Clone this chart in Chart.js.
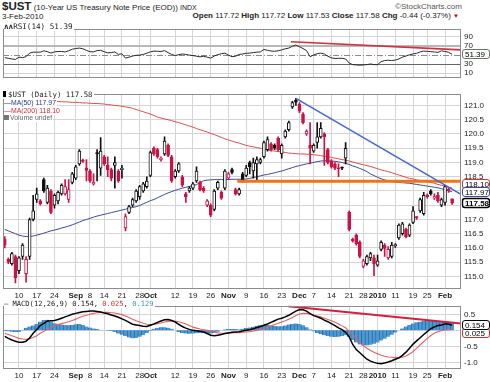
<!DOCTYPE html>
<html><head><meta charset="utf-8">
<script src="https://cdn.jsdelivr.net/npm/chart.js@4/dist/chart.umd.min.js"></script>
<style>
body{margin:0;background:#fff;}
#wrap{position:relative;width:490px;height:382px;overflow:hidden;font-family:'Liberation Sans',Arial,sans-serif;color:#222;background:#fff;}
canvas{position:absolute;left:0;}
.t{position:absolute;white-space:nowrap;line-height:1;}
.lg{position:absolute;white-space:nowrap;line-height:8px;background:#fff;z-index:5;padding-right:1px;}
</style></head><body><div id="wrap">
<div class="t" style="left:2px;top:1px;font-size:8px"><b style="font-size:11.5px">$UST</b> (10-Year US Treasury Note Price (EOD)) <span style="font-size:7px">INDX</span></div>
<div class="t" style="left:395px;top:3px;font-size:8px;color:#555">©StockCharts.com</div>
<div class="t" style="left:2px;top:13px;font-size:8px">3-Feb-2010</div>
<div class="t" style="right:31px;top:12px;font-size:8px"><b>Open</b> 117.72 <b>High</b> 117.72 <b>Low</b> 117.53 <b>Close</b> 117.58 <b>Chg</b> -0.44 (-0.37%) <span style="color:#c00;font-size:6px">▼</span></div>

<canvas id="cRsi" width="490" height="65" style="top:21px"></canvas>
<canvas id="cMain" width="490" height="214" style="top:86px"></canvas>
<canvas id="cMacd" width="490" height="84" style="top:298px"></canvas>

<div class="lg" style="left:4px;top:23px;font-family:'DejaVu Sans Mono';font-size:7.6px"><b>ʌʌ</b>RSI(14) 51.39</div>
<div class="lg" style="left:3px;top:91px;font-family:'DejaVu Sans Mono';font-size:7.4px"><span style="display:inline-block;width:3px;height:6px;background:#000;margin-right:2px"></span>$UST (Daily) 117.58</div>
<div class="lg" style="left:4px;top:99px;font-size:6.9px;color:#2b3a80">—MA(50) 117.97</div>
<div class="lg" style="left:4px;top:107px;font-size:6.9px;color:#cc3333">—MA(200) 118.10</div>
<div class="lg" style="left:4px;top:114px;font-size:6.9px;color:#666"><span style="display:inline-block;width:5px;height:5px;background:#777;margin-right:1px"></span>Volume undef</div>
<div class="lg" style="left:4px;top:300px;font-family:'DejaVu Sans Mono';font-size:7.1px">— MACD(12,26,9) 0.154, <span style="color:#cc3333">0.025</span>, <span style="color:#3399bb">0.129</span></div>
</div>
<script>
const dates = [
'2009-08-04','2009-08-05','2009-08-06','2009-08-07',
'2009-08-10','2009-08-11','2009-08-12','2009-08-13','2009-08-14',
'2009-08-17','2009-08-18','2009-08-19','2009-08-20','2009-08-21',
'2009-08-24','2009-08-25','2009-08-26','2009-08-27','2009-08-28',
'2009-08-31','2009-09-01','2009-09-02','2009-09-03','2009-09-04',
'2009-09-08','2009-09-09','2009-09-10','2009-09-11',
'2009-09-14','2009-09-15','2009-09-16','2009-09-17','2009-09-18',
'2009-09-21','2009-09-22','2009-09-23','2009-09-24','2009-09-25',
'2009-09-28','2009-09-29','2009-09-30','2009-10-01','2009-10-02',
'2009-10-05','2009-10-06','2009-10-07','2009-10-08','2009-10-09',
'2009-10-12','2009-10-13','2009-10-14','2009-10-15','2009-10-16',
'2009-10-19','2009-10-20','2009-10-21','2009-10-22','2009-10-23',
'2009-10-26','2009-10-27','2009-10-28','2009-10-29','2009-10-30',
'2009-11-02','2009-11-03','2009-11-04','2009-11-05','2009-11-06',
'2009-11-09','2009-11-10','2009-11-11','2009-11-12','2009-11-13',
'2009-11-16','2009-11-17','2009-11-18','2009-11-19','2009-11-20',
'2009-11-23','2009-11-24','2009-11-25','2009-11-27',
'2009-11-30','2009-12-01','2009-12-02','2009-12-03','2009-12-04',
'2009-12-07','2009-12-08','2009-12-09','2009-12-10','2009-12-11',
'2009-12-14','2009-12-15','2009-12-16','2009-12-17','2009-12-18',
'2009-12-21','2009-12-22','2009-12-23','2009-12-24',
'2009-12-28','2009-12-29','2009-12-30','2009-12-31',
'2010-01-04','2010-01-05','2010-01-06','2010-01-07','2010-01-08',
'2010-01-11','2010-01-12','2010-01-13','2010-01-14','2010-01-15',
'2010-01-19','2010-01-20','2010-01-21','2010-01-22',
'2010-01-25','2010-01-26','2010-01-27','2010-01-28','2010-01-29',
'2010-02-01','2010-02-02','2010-02-03'];

const tickDates = ['2009-08-10','2009-08-17','2009-08-24','2009-09-01','2009-09-08','2009-09-14','2009-09-21','2009-09-28','2009-10-01','2009-10-12','2009-10-19','2009-10-26','2009-11-02','2009-11-09','2009-11-16','2009-11-23','2009-12-01','2009-12-07','2009-12-14','2009-12-21','2009-12-28','2010-01-04','2010-01-11','2010-01-19','2010-01-25','2010-02-01'];
const tickText = ['10','17','24','Sep','8','14','21','28','Oct','12','19','26','Nov','9','16','23','Dec','7','14','21','28','2010','11','19','25','Feb'];
const boldTicks = ['Sep','Oct','Nov','Dec','2010','Feb'];

const open = [
116.3,115.6,115.45,115.7,115.2,115.7,115.1,115.7,117.0,117.7,
117.65,118.4,117.6,118.0,117.5,117.65,117.9,117.9,117.7,118.3,
118.45,118.95,119.08,118.8,118.7,118.25,119.35,118.8,119.2,118.9,
118.75,118.9,118.7,118.75,116.7,117.25,117.5,117.65,117.8,118.0,
118.15,118.55,119.5,119.45,119.1,119.3,119.6,119.2,118.5,118.7,
118.5,117.9,118.0,118.1,118.35,118.3,118.1,117.5,117.5,117.35,
118.1,117.95,118.1,118.45,118.75,118.05,117.9,118.6,118.55,119.0,
118.7,118.95,119.0,119.2,119.45,119.65,119.6,119.85,119.3,119.9,
120.15,120.95,121.18,121.05,120.7,120.0,119.6,119.4,119.7,119.9,
120.0,119.45,119.05,118.95,118.8,118.82,119.15,117.25,116.3,116.45,
116.2,115.35,115.45,115.65,115.65,115.4,115.95,116.1,115.65,115.7,
116.08,116.35,116.5,116.65,116.45,116.9,117.1,117.3,117.2,117.85,
118.0,117.75,117.85,117.5,117.6,118.05,117.72];
const high = [
116.4,115.65,115.85,115.75,115.7,116.15,115.7,117.05,117.85,118.1,
117.7,118.45,118.2,118.05,117.9,118.0,118.25,118.4,118.4,118.65,
118.9,119.45,119.12,119.1,118.75,118.6,119.45,119.87,119.25,119.2,
118.8,119.2,118.75,118.9,117.2,117.5,117.75,118.05,118.2,118.3,
118.5,119.4,119.55,119.5,119.2,119.9,119.65,119.25,118.75,119.0,
118.55,117.95,118.15,118.3,118.85,118.35,118.15,117.7,117.55,118.05,
118.35,118.0,118.75,118.65,118.8,118.1,118.1,118.65,118.9,119.05,
119.15,119.2,119.15,119.75,119.9,119.7,119.65,119.9,119.65,120.15,
120.45,121.15,121.25,121.1,120.75,120.15,120.4,119.65,120.4,120.4,
120.05,119.5,119.1,119.0,118.95,118.85,119.7,117.3,116.35,116.5,
116.25,115.6,115.75,115.85,115.75,115.75,116.25,116.15,116.05,116.2,
116.15,116.85,116.9,116.7,116.85,117.45,117.1,117.75,117.95,117.9,
118.05,117.9,117.95,117.75,118.2,118.1,117.72];
const low = [
116.0,115.45,115.4,114.77,115.1,115.6,114.8,115.6,116.95,117.6,
117.5,117.95,117.55,117.2,117.4,117.55,117.85,117.85,117.6,118.25,
118.4,118.9,119.0,118.35,118.3,118.2,118.35,118.55,118.9,118.5,
118.35,118.1,118.3,118.45,116.6,117.2,117.45,117.6,117.7,117.95,
118.1,118.5,119.25,119.15,119.05,119.25,119.2,118.3,118.45,118.65,
118.15,117.6,117.95,118.05,118.3,118.0,117.95,117.45,117.1,117.3,
118.05,117.7,118.05,118.4,118.6,117.85,117.85,118.3,118.5,118.6,
118.45,118.4,118.95,119.15,119.4,119.4,119.45,119.4,119.15,119.85,
120.1,120.9,121.0,120.75,120.35,119.95,118.95,119.35,119.5,119.85,
118.9,118.95,118.8,118.75,118.5,118.75,118.95,116.6,116.2,116.1,
115.65,115.3,115.4,115.55,115.03,115.35,115.9,115.7,115.6,115.65,
116.02,116.3,116.45,116.35,116.4,116.85,117.0,117.25,117.15,117.75,
117.85,117.7,117.6,117.45,117.5,117.95,117.53];
const close = [
116.1,115.5,115.8,114.95,115.65,116.1,115.6,117.0,117.3,117.9,
117.55,118.0,118.1,117.25,117.85,117.95,118.2,118.15,118.05,118.6,
118.85,119.4,119.04,118.72,118.35,118.3,119.3,119.4,118.95,118.75,
118.45,119.0,118.35,118.8,117.1,117.45,117.7,118.0,118.15,118.25,
118.35,119.35,119.3,119.2,119.15,119.75,119.25,118.35,118.7,118.95,
118.2,117.8,118.1,118.25,118.7,118.05,118.0,117.65,117.15,118.0,
118.3,117.75,118.7,118.6,118.65,117.9,118.05,118.35,118.8,118.85,
119.0,119.1,119.1,119.7,119.8,119.45,119.5,119.45,119.6,120.1,
120.4,121.1,121.12,120.8,120.4,120.1,119.5,119.6,119.9,120.2,
119.9,119.0,118.85,118.8,118.78,118.8,119.5,116.65,116.25,116.15,
115.7,115.55,115.7,115.8,115.45,115.55,116.2,115.98,115.95,116.1,
116.12,116.8,116.85,116.4,116.8,117.3,117.05,117.7,117.85,117.8,
117.9,117.8,117.65,117.7,118.15,118.02,117.58];
const ma50 = [
116.65,116.6,116.55,116.5,116.45,116.42,116.4,116.4,116.42,116.45,
116.48,116.52,116.56,116.6,116.63,116.66,116.7,116.73,116.77,116.81,
116.86,116.91,116.96,117.0,117.04,117.08,117.12,117.15,117.18,117.21,
117.24,117.27,117.3,117.33,117.36,117.39,117.42,117.45,117.49,117.55,
117.6,117.66,117.7,117.76,117.82,117.88,117.93,117.98,118.02,118.06,
118.1,118.13,118.16,118.19,118.22,118.3,118.36,118.38,118.39,118.4,
118.4,118.4,118.4,118.4,118.41,118.41,118.41,118.41,118.42,118.44,
118.47,118.5,118.53,118.56,118.58,118.61,118.64,118.67,118.7,118.74,
118.78,118.82,118.86,118.89,118.92,118.95,118.98,119.0,119.03,119.05,
119.06,119.06,119.05,119.04,119.02,119.0,118.97,118.93,118.88,118.84,
118.79,118.74,118.68,118.6,118.54,118.48,118.43,118.39,118.35,118.33,
118.31,118.3,118.29,118.28,118.27,118.25,118.23,118.21,118.19,118.17,
118.15,118.13,118.11,118.08,118.05,118.01,117.97];
const ma200 = [
121.22,121.22,121.21,121.21,121.2,121.2,121.19,121.19,121.18,121.18,
121.17,121.17,121.16,121.15,121.15,121.14,121.13,121.13,121.12,121.11,
121.11,121.1,121.09,121.09,121.08,121.07,121.07,121.06,121.05,121.03,
121.02,121.0,120.99,120.97,120.95,120.93,120.9,120.86,120.82,120.78,
120.74,120.7,120.65,120.59,120.56,120.53,120.5,120.47,120.43,120.4,
120.36,120.32,120.28,120.24,120.19,120.15,120.11,120.07,120.02,119.98,
119.93,119.88,119.83,119.79,119.75,119.71,119.68,119.64,119.6,119.57,
119.55,119.52,119.5,119.47,119.44,119.42,119.4,119.38,119.37,119.35,
119.33,119.32,119.31,119.3,119.3,119.29,119.29,119.27,119.26,119.24,
119.22,119.2,119.18,119.15,119.13,119.1,119.08,119.05,119.02,118.98,
118.95,118.92,118.89,118.86,118.82,118.78,118.74,118.71,118.68,118.64,
118.6,118.56,118.52,118.48,118.44,118.42,118.39,118.37,118.35,118.32,
118.3,118.27,118.23,118.2,118.17,118.13,118.1];
const rsi = [
43.9,42.5,41,40,45,44,46,54,56,56,
56,59,57,54,56.5,57.5,57.5,56.5,59,62.5,
64,65,63.5,60,57,56.5,59.5,60,57,54.5,
55,56.5,51,52.5,42.8,45,47.5,49,49.5,51,
53.5,56.7,58.3,58,57.5,59.4,55,51,48.5,50.5,
52,51,49.4,48.5,47,45.6,47,45,42.8,47.5,
50.5,52.5,53.9,49.5,46,47,51,52,53.5,54,
55,56,56.7,62,60,58.5,58,59,61,63.5,
65,69,71.7,68,64,59.4,46,50,52.5,53.9,
52,47,43.5,42,42.5,42.5,41,32,28.5,27.8,
27.3,27.8,28.5,30,28.5,28.5,35,37.5,38.3,37.5,
38.5,41,45,47.5,50,52.2,53.5,56.5,58.3,58,
57,56.5,55.5,59,57.5,55.6,51.39];
const macd = [
-0.19,-0.25,-0.30,-0.34,-0.37,-0.37,-0.34,-0.24,-0.09,0.03,
0.15,0.22,0.29,0.30,0.31,0.34,0.38,0.42,0.46,0.50,
0.53,0.56,0.58,0.59,0.60,0.60,0.59,0.57,0.54,0.52,
0.48,0.45,0.41,0.36,0.31,0.25,0.19,0.17,0.15,0.13,
0.12,0.16,0.20,0.25,0.29,0.33,0.34,0.31,0.26,0.19,
0.12,0.07,0.03,0.00,-0.01,-0.03,-0.05,-0.10,-0.15,-0.17,
-0.15,-0.13,-0.10,-0.08,-0.06,-0.05,-0.04,-0.02,0.00,0.02,
0.05,0.09,0.12,0.16,0.20,0.25,0.30,0.35,0.38,0.42,
0.47,0.54,0.60,0.65,0.64,0.60,0.52,0.46,0.42,0.38,
0.32,0.27,0.21,0.15,0.08,0.02,-0.06,-0.20,-0.44,-0.60,
-0.70,-0.80,-0.90,-0.96,-1.00,-1.03,-1.04,-1.02,-0.99,-0.95,
-0.90,-0.86,-0.78,-0.68,-0.56,-0.43,-0.33,-0.23,-0.13,-0.04,
0.05,0.11,0.15,0.17,0.20,0.20,0.154];
const signal = [
-0.09,-0.13,-0.17,-0.21,-0.25,-0.27,-0.28,-0.26,-0.22,-0.17,
-0.09,-0.03,0.03,0.09,0.15,0.18,0.21,0.24,0.27,0.31,
0.35,0.40,0.44,0.47,0.50,0.53,0.55,0.56,0.56,0.56,
0.55,0.54,0.52,0.49,0.45,0.40,0.35,0.30,0.26,0.22,
0.19,0.18,0.19,0.21,0.23,0.26,0.28,0.29,0.28,0.27,
0.24,0.20,0.15,0.10,0.07,0.04,0.02,0.00,-0.03,-0.06,
-0.08,-0.09,-0.09,-0.08,-0.08,-0.07,-0.07,-0.06,-0.05,-0.04,
-0.02,0.00,0.03,0.06,0.10,0.14,0.18,0.22,0.26,0.30,
0.35,0.40,0.46,0.51,0.53,0.53,0.51,0.48,0.45,0.42,
0.38,0.34,0.30,0.25,0.20,0.14,0.08,-0.03,-0.14,-0.26,
-0.38,-0.48,-0.56,-0.63,-0.68,-0.73,-0.78,-0.81,-0.83,-0.84,
-0.85,-0.85,-0.84,-0.80,-0.74,-0.66,-0.56,-0.45,-0.35,-0.25,
-0.16,-0.09,-0.04,-0.01,0.01,0.02,0.025];
const hist = [
-0.015,-0.015,-0.02,-0.025,-0.025,0.01,0.04,0.06,0.075,0.1,
0.135,0.16,0.165,0.14,0.11,0.1,0.09,0.085,0.08,0.085,
0.095,0.1,0.085,0.06,0.045,0.03,0.02,0.01,0.0,-0.005,
-0.01,-0.025,-0.05,-0.07,-0.09,-0.11,-0.125,-0.12,-0.1,-0.075,
-0.04,-0.01,0.025,0.04,0.05,0.05,0.04,0.025,0.0,-0.025,
-0.04,-0.05,-0.055,-0.05,-0.045,-0.04,-0.04,-0.045,-0.05,-0.04,
-0.02,0.0,0.015,0.02,0.02,0.02,0.015,0.025,0.035,0.045,
0.055,0.07,0.08,0.085,0.085,0.075,0.07,0.065,0.065,0.075,
0.09,0.1,0.105,0.1,0.08,0.05,0.015,-0.015,-0.04,-0.06,
-0.075,-0.09,-0.1,-0.105,-0.1,-0.09,-0.075,-0.1,-0.15,-0.19,
-0.22,-0.235,-0.235,-0.225,-0.21,-0.19,-0.16,-0.13,-0.1,-0.07,
-0.035,0.0,0.03,0.06,0.085,0.105,0.125,0.135,0.145,0.15,
0.15,0.145,0.14,0.14,0.135,0.13,0.129];

const priceTicks = [115,115.5,116,116.5,117,117.5,118,118.5,119,119.5,120,120.5,121];
const rsiTicks = [10,30,50,70,90];
const rsiLevels = [30,50,70];
const macdTicks = [-1,-0.5,0,0.5];
// trend lines drawn on the chart (day index, value)
const priceTrendX = [82, 128.5], priceTrendY = [121.25, 117.88];
const levelX = [65.5, 128.5], levelY = [118.34, 118.34];
const rsiTrendX = [80.6, 128.5], rsiTrendY = [78.9, 61.1];
const macdTrendX = [79.8, 128.5], macdTrendY = [0.75, 0.21];

const N = dates.length;
const tickIdx = tickDates.map(d => dates.indexOf(d));
const pts = arr => arr.map((v,i) => ({x:i, y:v}));
const pair = (xa, ya) => xa.map((x,i) => ({x, y:ya[i]}));
const RED = '#cc1144', BLK = '#111111';
const candleColor = close.map((c,i) => (i>0 && c>=close[i-1]) ? BLK : RED);
const bodyFill = close.map((c,i) => c>=open[i] ? '#ffffff' : candleColor[i]);

Chart.defaults.font.family = "'Liberation Sans', Arial, sans-serif";
const GRID = '#d4d4d4';

function xAxis(show, h){
  return {type:'linear', min:-0.5, max:N+1.5, offset:false, bounds:'data',
    afterBuildTicks: s => { s.ticks = tickIdx.map(v => ({value:v})); },
    afterFit: s => { s.height = h; },
    grid:{color:GRID, drawTicks:false, offset:false},
    border:{display:false},
    ticks:{display:show, autoSkip:false, maxRotation:0, minRotation:0, padding:2, color:'#222',
      font: c => ({size:8, weight: boldTicks.includes(tickText[c.index]) ? 'bold' : 'normal'}),
      callback: (v,i) => tickText[i]}};
}
function yAxis(min, max, ticks, fmt, gridColor){
  return {type:'linear', position:'right', min, max, bounds:'data',
    afterBuildTicks: s => { s.ticks = ticks.map(v => ({value:v})); },
    afterFit: s => { s.width = 29; },
    grid:{color: gridColor || GRID, drawTicks:false},
    border:{display:false},
    ticks:{padding:3, color:'#222', font:{size:8}, callback: fmt}};
}
const frame = {id:'frame', afterDatasetsDraw(c){
  const a=c.chartArea, x=c.ctx; x.save(); x.strokeStyle='#8c8c8c'; x.lineWidth=1;
  x.strokeRect(Math.round(a.left)+0.5, Math.round(a.top)+0.5, Math.round(a.right-a.left)-1, Math.round(a.bottom-a.top)-1); x.restore(); }};
function tagPlugin(items, dir){
  return {id:'tags', afterDraw(c){
    const ctx=c.ctx, a=c.chartArea, ys=c.scales.y;
    const L = items.map(t => Object.assign({py: ys.getPixelForValue(t.v)}, t)).sort((p,q)=>p.py-q.py);
    const gap = 7.5;
    if (dir==='down') { for (let i=1;i<L.length;i++) L[i].py = Math.max(L[i].py, L[i-1].py+gap); }
    else { for (let i=L.length-2;i>=0;i--) L[i].py = Math.min(L[i].py, L[i+1].py-gap); }
    const order = dir==='down' ? L.slice().reverse() : L;
    order.forEach(t => {
      const x=Math.round(a.right)+1.5, y=Math.round(t.py)-4.5, w=27, h=9;
      ctx.save(); ctx.beginPath(); ctx.roundRect(x,y,w,h,2.5);
      ctx.fillStyle='#fff'; ctx.fill(); ctx.lineWidth=t.bold?1.4:1; ctx.strokeStyle=t.border; ctx.stroke();
      ctx.fillStyle='#000'; ctx.font=(t.bold?'bold ':'')+"8px 'Liberation Sans', Arial";
      ctx.textBaseline='middle'; ctx.fillText(t.text, x+2.5, y+h/2+0.5); ctx.restore();
    });
  }};
}
const rsiLinesPlugin = {id:'rsiLines', beforeDatasetsDraw(c){
  const y=c.scales.y, a=c.chartArea, ctx=c.ctx;
  const st = {30:['#666',1,[]], 50:['#8a8a8a',1,[6,2,1,2]], 70:['#b8b8b8',2,[]]};
  rsiLevels.forEach(v => { const s=st[v]; const p=Math.round(y.getPixelForValue(v))+(s[1]%2?0.5:0);
    ctx.save(); ctx.strokeStyle=s[0]; ctx.lineWidth=s[1]; ctx.setLineDash(s[2]);
    ctx.beginPath(); ctx.moveTo(a.left,p); ctx.lineTo(a.right,p); ctx.stroke(); ctx.restore(); });
}};
const base = {responsive:false, animation:false, devicePixelRatio:1,
  plugins:{legend:{display:false}, tooltip:{enabled:false}}};

// RSI
new Chart(document.getElementById('cRsi'), {
  type:'line',
  data:{datasets:[
    {data: pair(rsiTrendX, rsiTrendY), borderColor:'#d03040', borderWidth:1.6, pointRadius:0, order:0},
    {data: pts(rsi), borderColor:'#2a2a2a', borderWidth:1, pointRadius:0, tension:0, order:1}
  ]},
  options: Object.assign({}, base, {
    layout:{padding:{left:3,right:0,top:1,bottom:0}},
    scales:{x: xAxis(false, 0),
      y: yAxis(-1.4, 107.5, rsiTicks, v => v===50 ? '' : String(v),
        c => (c.tick && rsiLevels.includes(c.tick.value)) ? 'rgba(0,0,0,0)' : GRID)}}),
  plugins:[rsiLinesPlugin, frame, tagPlugin([{v:rsi[N-1], text:'51.39', border:'#667766'}], 'up')]
});

// Price
new Chart(document.getElementById('cMain'), {
  type:'bar',
  data:{datasets:[
    {type:'line', data: pair(priceTrendX, priceTrendY), borderColor:'#4a68cc', borderWidth:1.6, pointRadius:0, order:0},
    {type:'line', data: pair(levelX, levelY), borderColor:'#ee7418', borderWidth:3, pointRadius:0, order:0},
    {type:'bar', data: dates.map((d,i) => ({x:i, y:[open[i], close[i]]})), backgroundColor: bodyFill, borderColor: candleColor,
      borderWidth:1, borderSkipped:false, barThickness:3, minBarLength:1, grouped:false, order:1},
    {type:'bar', data: dates.map((d,i) => ({x:i, y:[low[i], high[i]]})), backgroundColor: candleColor,
      borderWidth:0, barThickness:1, grouped:false, order:2},
    {type:'line', data: pts(ma50), borderColor:'#3b4a90', borderWidth:1, pointRadius:0, order:3},
    {type:'line', data: pts(ma200), borderColor:'#d65050', borderWidth:1, pointRadius:0, order:3}
  ]},
  options: Object.assign({}, base, {
    layout:{padding:{left:3,right:0,top:2,bottom:0}},
    scales:{x: xAxis(true, 11), y: yAxis(114.56, 121.41, priceTicks, v => v.toFixed(1))}}),
  plugins:[frame, tagPlugin([
    {v:ma200[N-1], text:'118.10', border:'#cc3333'},
    {v:ma50[N-1], text:'117.97', border:'#3b4a90'},
    {v:close[N-1], text:'117.58', border:'#000', bold:true}], 'up')]
});

// MACD
new Chart(document.getElementById('cMacd'), {
  type:'bar',
  data:{datasets:[
    {type:'line', data: pair(macdTrendX, macdTrendY), borderColor:'#d02040', borderWidth:2, pointRadius:0, order:0},
    {type:'line', data: pts(macd), borderColor:'#000', borderWidth:1.5, pointRadius:0, order:1},
    {type:'line', data: pts(signal), borderColor:'#e06262', borderWidth:1.1, pointRadius:0, order:2},
    {type:'bar', yAxisID:'yh', data: pts(hist), backgroundColor:'#4c9ad4', borderColor:'#2a6aa3',
      borderWidth:{left:1,right:0,top:0,bottom:0}, borderSkipped:false, barThickness:4, grouped:false, order:3}
  ]},
  options: Object.assign({}, base, {
    layout:{padding:{left:3,right:0,top:2,bottom:0}},
    scales:{x: xAxis(true, 13),
      y: yAxis(-1.206, 0.766, macdTicks, v => v===0 ? '' : v.toFixed(1)),
      yh:{type:'linear', display:false, min:-0.603, max:0.383}}}),
  plugins:[frame, tagPlugin([
    {v:macd[N-1], text:'0.154', border:'#000'},
    {v:signal[N-1], text:'0.025', border:'#cc3333'}], 'down')]
});
</script>
</body></html>
